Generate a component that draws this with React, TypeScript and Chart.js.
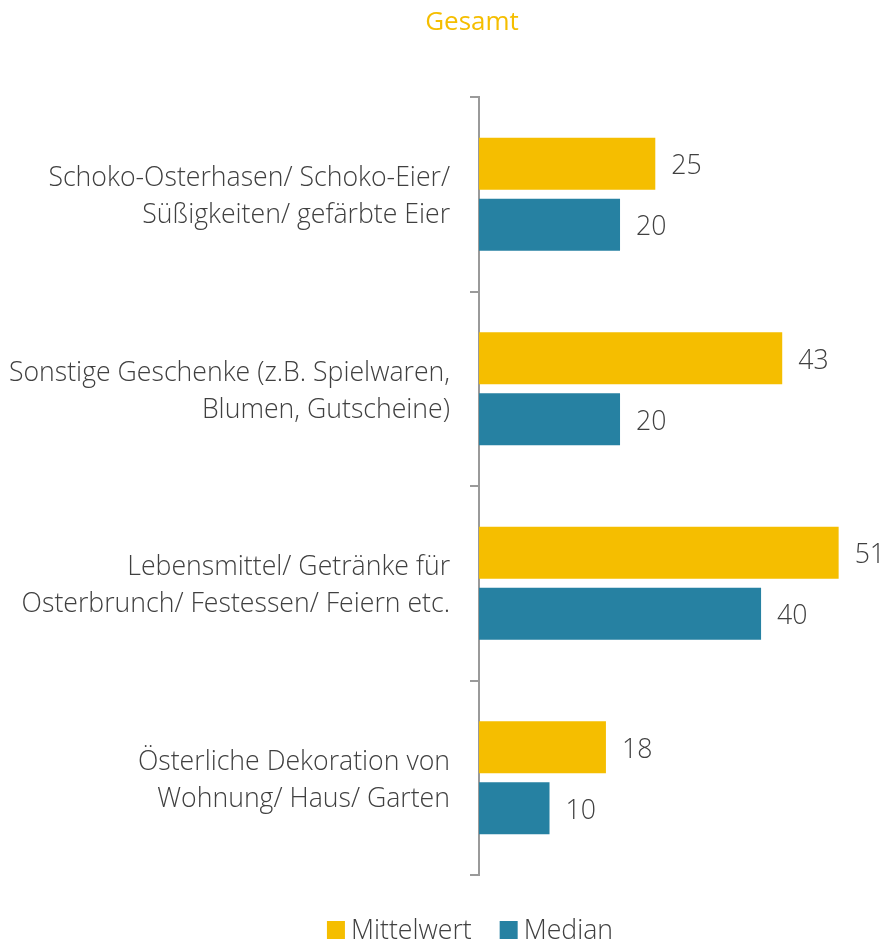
import React, { useEffect, useRef } from "react";
import { Chart, registerables } from "chart.js";

Chart.register(...registerables);

const categories: string[][] = [
  ["Schoko-Osterhasen/ Schoko-Eier/", "Süßigkeiten/ gefärbte Eier"],
  ["Sonstige Geschenke (z.B. Spielwaren,", "Blumen, Gutscheine)"],
  ["Lebensmittel/ Getränke für", "Osterbrunch/ Festessen/ Feiern etc."],
  ["Österliche Dekoration von", "Wohnung/ Haus/ Garten"],
];
const mittelwert: number[] = [25, 43, 51, 18];
const median: number[] = [20, 20, 40, 10];
const seriesNames: string[] = ["Mittelwert", "Median"];
const title = "Gesamt";

const YELLOW = "#F5BE00";
const TEAL = "#2681A2";
const TEXT = "#404040";
const AXIS = "#9a9a9a";
const FONT = "'Open Sans', sans-serif";
const FS = 26.67;
const CENTER_X = 470;

const valueLabels = {
  id: "valueLabels",
  afterDatasetsDraw(chart: any) {
    const ctx = chart.ctx;
    ctx.save();
    ctx.font = `300 ${FS}px ${FONT}`;
    ctx.fillStyle = TEXT;
    ctx.textAlign = "left";
    ctx.textBaseline = "middle";
    chart.data.datasets.forEach((ds: any, i: number) => {
      const meta = chart.getDatasetMeta(i);
      meta.data.forEach((el: any, j: number) => {
        ctx.fillText(String(ds.data[j]), el.x + 16, el.y + 3);
      });
    });
    ctx.restore();
  },
};

const titleAndLegend = {
  id: "titleAndLegend",
  afterDraw(chart: any) {
    const ctx = chart.ctx;
    ctx.save();
    // title
    ctx.font = `400 26px ${FONT}`;
    ctx.fillStyle = YELLOW;
    ctx.textAlign = "center";
    ctx.textBaseline = "middle";
    ctx.fillText(title, CENTER_X + 2, 23);
    // legend
    ctx.font = `300 ${FS}px ${FONT}`;
    ctx.textAlign = "left";
    const box = 18;
    const gapBox = 6;
    const gapItem = 28;
    const items = chart.data.datasets.map((ds: any) => ({
      label: ds.label,
      color: ds.backgroundColor,
      w: ctx.measureText(ds.label).width,
    }));
    const total =
      items.reduce((s: number, it: any) => s + box + gapBox + it.w, 0) +
      gapItem * (items.length - 1);
    let x = CENTER_X - total / 2;
    const cy = 930;
    items.forEach((it: any) => {
      ctx.fillStyle = it.color;
      ctx.fillRect(x, cy - box / 2, box, box);
      x += box + gapBox;
      ctx.fillStyle = TEXT;
      ctx.fillText(it.label, x, cy + 1);
      x += it.w + gapItem;
    });
    ctx.restore();
  },
};

export default function App() {
  const ref = useRef<HTMLCanvasElement | null>(null);
  useEffect(() => {
    if (!ref.current) return;
    const chart = new Chart(ref.current, {
      type: "bar",
      data: {
        labels: categories,
        datasets: [
          {
            label: seriesNames[0],
            data: mittelwert,
            backgroundColor: YELLOW,
            categoryPercentage: 0.627,
            barPercentage: 0.85,
          },
          {
            label: seriesNames[1],
            data: median,
            backgroundColor: TEAL,
            categoryPercentage: 0.627,
            barPercentage: 0.85,
          },
        ],
      },
      options: {
        indexAxis: "y",
        animation: false,
        responsive: false,
        maintainAspectRatio: false,
        layout: { padding: { left: 0, right: 0, top: 97, bottom: 68 } },
        scales: {
          x: { display: false, min: 0, max: 58 },
          y: {
            afterFit: (scale: any) => {
              scale.width = 479;
            },
            border: { display: true, color: AXIS, width: 2 },
            grid: {
              offset: true,
              drawOnChartArea: false,
              drawTicks: true,
              tickLength: 9,
              color: AXIS,
              lineWidth: 2,
            },
            ticks: {
              color: TEXT,
              padding: 20,
              labelOffset: 3,
              font: { family: FONT, size: FS, weight: "300" as any, lineHeight: 1.38 },
            },
          },
        },
        plugins: {
          legend: { display: false },
          tooltip: { enabled: false },
          title: { display: false },
        },
      },
      plugins: [valueLabels, titleAndLegend],
    });
    return () => chart.destroy();
  }, []);
  return (
    <div style={{ position: "absolute", left: 0, top: 0, width: 888, height: 943, background: "#fff" }}>
      <canvas ref={ref} width={888} height={943} style={{ width: 888, height: 943 }} />
    </div>
  );
}
